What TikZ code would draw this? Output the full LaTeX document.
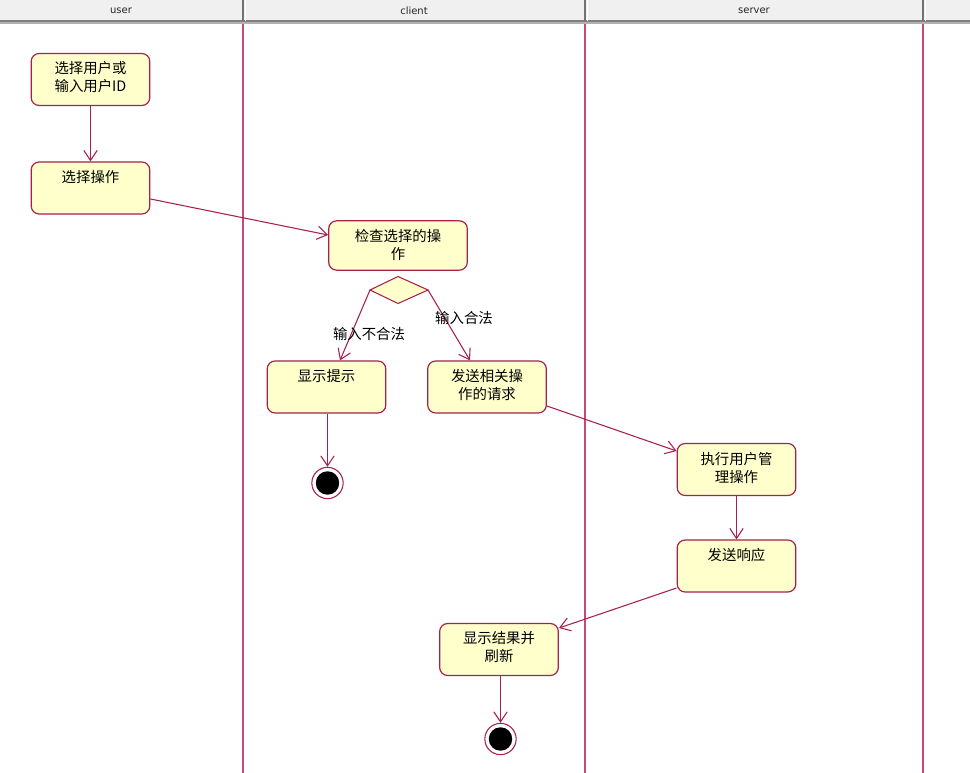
\documentclass[tikz,border=0pt]{standalone}
\usepackage{fontspec}
\setmainfont{Noto Sans CJK SC}
\newfontfamily\headfont{DejaVu Sans}
\usetikzlibrary{arrows.meta}
\definecolor{umlline}{HTML}{A8204E}
\definecolor{lanecol}{HTML}{C8487A}
\definecolor{umlfill}{HTML}{FFFFCC}
\definecolor{headbg}{HTML}{F0F0F0}
\tikzset{
  actbox/.style={draw=umlline, fill=umlfill, line width=0.9pt, rounded corners=6pt,
    minimum width=89pt, minimum height=39pt, inner sep=0pt},
  acttext/.style={anchor=north, align=center, font=\fontsize{10.8pt}{13.5pt}\selectfont, inner sep=0pt},
  flow/.style={draw=umlline, line width=0.8pt, -{Straight Barb[length=7.5pt,width=10pt]}},
  guard/.style={font=\fontsize{10.8pt}{13.5pt}\selectfont, inner sep=0pt},
  decision/.style={draw=umlline, fill=umlfill, line width=0.8pt},
  headtext/.style={font=\headfont\fontsize{7.5pt}{9pt}\selectfont, text=black!85},
  lane/.style={draw=lanecol, line width=0.9pt},
}
\begin{document}
\begin{tikzpicture}[x=0.75pt, y=-0.75pt]
  \useasboundingbox (0,0) rectangle (970,773);
  \fill[white] (0,0) rectangle (970,773);

  % swimlane header
  \fill[headbg] (0,0) rectangle (970,21);
  \fill[black!50] (0,20.5) rectangle (970,22.5);
  \fill[black!30] (0,22.5) rectangle (970,24.5);
  \foreach \x in {243,585,923} {
    \draw[black!55, line width=1.2pt] (\x,0) -- (\x,21);
    \draw[white, line width=0.6pt] (\x+2,0) -- (\x+2,21);
  }
  \node[headtext] (hu) at (121,11) {user};
  \node[headtext] (hc) at (414,11) {client};
  \node[headtext] (hs) at (754,11) {server};

  % lane separators
  \foreach \x in {243,585,923}
    \draw[lane] (\x,24.5) -- (\x,773);

  % activity states
  \node[actbox] (A) at (90.5,79.5) {};
  \node[acttext] (At) at ([yshift=-6.5pt]A.north) {选择用户或\\输入用户ID};
  \node[actbox] (B) at (90.5,188) {};
  \node[acttext] (Bt) at ([yshift=-6.5pt]B.north) {选择操作};
  \node[actbox, minimum width=104pt, minimum height=37pt] (C) at (398,245.5) {};
  \node[acttext] (Ct) at ([yshift=-6.5pt]C.north) {检查选择的操\\作};
  \node[actbox] (D) at (326.5,387) {};
  \node[acttext] (Dt) at ([yshift=-6.5pt]D.north) {显示提示};
  \node[actbox] (E) at (487,387) {};
  \node[acttext] (Et) at ([yshift=-6.5pt]E.north) {发送相关操\\作的请求};
  \node[actbox] (G) at (736.5,469.5) {};
  \node[acttext] (Gt) at ([yshift=-6.5pt]G.north) {执行用户管\\理操作};
  \node[actbox] (H) at (736.5,566) {};
  \node[acttext] (Ht) at ([yshift=-6.5pt]H.north) {发送响应};
  \node[actbox] (I) at (499,649.5) {};
  \node[acttext] (It) at ([yshift=-6.5pt]I.north) {显示结果并\\刷新};

  % decision
  \draw[decision] (370,290) -- (398,276.5) -- (428,290) -- (398,303.5) -- cycle;
  \coordinate (Kl) at (370,290);
  \coordinate (Kr) at (428,290);

  % final states
  \node[circle, draw=umlline, fill=white, line width=0.8pt, minimum size=23.5pt, inner sep=0pt] (F1) at (327.5,483) {};
  \fill[black] (F1) circle (8.8pt);
  \node[circle, draw=umlline, fill=white, line width=0.8pt, minimum size=23.5pt, inner sep=0pt] (F2) at (500.5,739) {};
  \fill[black] (F2) circle (8.8pt);

  % transitions
  \draw[flow] (A.south) -- (B.north);
  \draw[flow] (B.east |- 0,199) -- (C.west |- 0,235);
  \draw[flow] (Kl) -- (D.north -| 340,0);
  \draw[flow] (Kr) -- (E.north -| 470,0);
  \draw[flow] (D.south -| F1.north) -- (F1.north);
  \draw[flow] (E.east |- 0,406) -- (G.west |- 0,451);
  \draw[flow] (G.south) -- (H.north);
  \draw[flow] (H.west |- 0,588) -- (I.east |- 0,628);
  \draw[flow] (I.south -| F2.north) -- (F2.north);

  % guards
  \node[guard] (g1) at (369,334) {输入不合法};
  \node[guard] (g2) at (464,318) {输入合法};
\end{tikzpicture}
\end{document}
